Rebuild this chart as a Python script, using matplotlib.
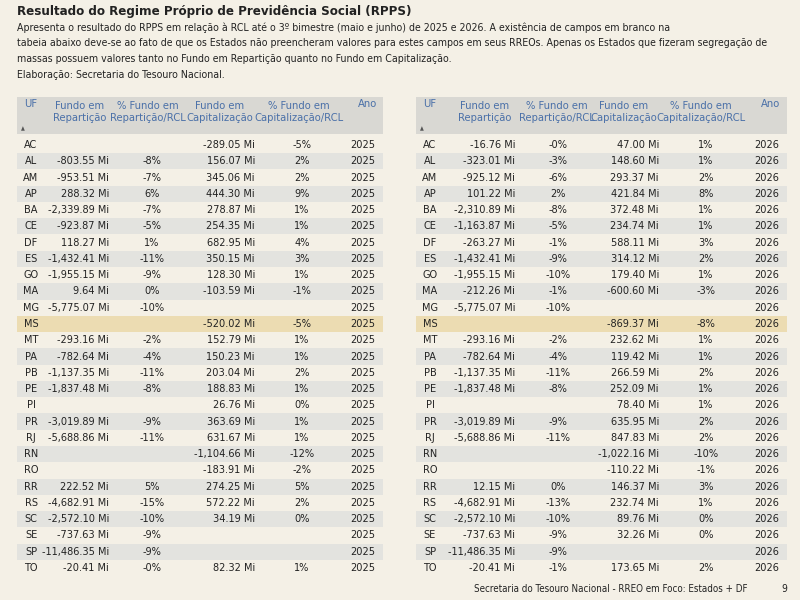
import matplotlib.pyplot as plt
from matplotlib.patches import Rectangle

plt.rcParams['font.family'] = ['DejaVu Sans']
plt.rcParams['font.stretch'] = 'condensed'

ufs = ['AC', 'AL', 'AM', 'AP', 'BA', 'CE', 'DF', 'ES', 'GO', 'MA', 'MG', 'MS', 'MT',
       'PA', 'PB', 'PE', 'PI', 'PR', 'RJ', 'RN', 'RO', 'RR', 'RS', 'SC', 'SE', 'SP', 'TO']

rep_2025 = ['', '-803.55 Mi', '-953.51 Mi', '288.32 Mi', '-2,339.89 Mi', '-923.87 Mi', '118.27 Mi',
            '-1,432.41 Mi', '-1,955.15 Mi', '9.64 Mi', '-5,775.07 Mi', '', '-293.16 Mi',
            '-782.64 Mi', '-1,137.35 Mi', '-1,837.48 Mi', '', '-3,019.89 Mi', '-5,688.86 Mi',
            '', '', '222.52 Mi', '-4,682.91 Mi', '-2,572.10 Mi', '-737.63 Mi', '-11,486.35 Mi', '-20.41 Mi']
rep_pct_2025 = ['', '-8%', '-7%', '6%', '-7%', '-5%', '1%', '-11%', '-9%', '0%', '-10%', '', '-2%',
                '-4%', '-11%', '-8%', '', '-9%', '-11%', '', '', '5%', '-15%', '-10%', '-9%', '-9%', '-0%']
cap_2025 = ['-289.05 Mi', '156.07 Mi', '345.06 Mi', '444.30 Mi', '278.87 Mi', '254.35 Mi', '682.95 Mi',
            '350.15 Mi', '128.30 Mi', '-103.59 Mi', '', '-520.02 Mi', '152.79 Mi',
            '150.23 Mi', '203.04 Mi', '188.83 Mi', '26.76 Mi', '363.69 Mi', '631.67 Mi',
            '-1,104.66 Mi', '-183.91 Mi', '274.25 Mi', '572.22 Mi', '34.19 Mi', '', '', '82.32 Mi']
cap_pct_2025 = ['-5%', '2%', '2%', '9%', '1%', '1%', '4%', '3%', '1%', '-1%', '', '-5%', '1%',
                '1%', '2%', '1%', '0%', '1%', '1%', '-12%', '-2%', '5%', '2%', '0%', '', '', '1%']

rep_2026 = ['-16.76 Mi', '-323.01 Mi', '-925.12 Mi', '101.22 Mi', '-2,310.89 Mi', '-1,163.87 Mi', '-263.27 Mi',
            '-1,432.41 Mi', '-1,955.15 Mi', '-212.26 Mi', '-5,775.07 Mi', '', '-293.16 Mi',
            '-782.64 Mi', '-1,137.35 Mi', '-1,837.48 Mi', '', '-3,019.89 Mi', '-5,688.86 Mi',
            '', '', '12.15 Mi', '-4,682.91 Mi', '-2,572.10 Mi', '-737.63 Mi', '-11,486.35 Mi', '-20.41 Mi']
rep_pct_2026 = ['-0%', '-3%', '-6%', '2%', '-8%', '-5%', '-1%', '-9%', '-10%', '-1%', '-10%', '', '-2%',
                '-4%', '-11%', '-8%', '', '-9%', '-11%', '', '', '0%', '-13%', '-10%', '-9%', '-9%', '-1%']
cap_2026 = ['47.00 Mi', '148.60 Mi', '293.37 Mi', '421.84 Mi', '372.48 Mi', '234.74 Mi', '588.11 Mi',
            '314.12 Mi', '179.40 Mi', '-600.60 Mi', '', '-869.37 Mi', '232.62 Mi',
            '119.42 Mi', '266.59 Mi', '252.09 Mi', '78.40 Mi', '635.95 Mi', '847.83 Mi',
            '-1,022.16 Mi', '-110.22 Mi', '146.37 Mi', '232.74 Mi', '89.76 Mi', '32.26 Mi', '', '173.65 Mi']
cap_pct_2026 = ['1%', '1%', '2%', '8%', '1%', '1%', '3%', '2%', '1%', '-3%', '', '-8%', '1%',
                '1%', '2%', '1%', '1%', '2%', '2%', '-10%', '-1%', '3%', '1%', '0%', '0%', '', '2%']

headers = ['UF', 'Fundo em\nRepartição', '% Fundo em\nRepartição/RCL', 'Fundo em\nCapitalização',
           '% Fundo em\nCapitalização/RCL', 'Ano']

BG = '#f4f0e6'
HEAD = '#4a70a8'
TXT = '#222222'

fig = plt.figure(figsize=(8, 6), dpi=100, facecolor=BG)
ax = fig.add_axes([0, 0, 1, 1])
ax.set_xlim(0, 800)
ax.set_ylim(600, 0)
ax.axis('off')

ax.text(17, 12, 'Resultado do Regime Próprio de Previdência Social (RPPS)', fontsize=9.5,
        fontweight='bold', color=TXT, va='center')
intro = ['Apresenta o resultado do RPPS em relação à RCL até o 3º bimestre (maio e junho) de 2025 e 2026. A existência de campos em branco na',
         'tabeia abaixo deve-se ao fato de que os Estados não preencheram valores para estes campos em seus RREOs. Apenas os Estados que fizeram segregação de',
         'massas possuem valores tanto no Fundo em Repartição quanto no Fundo em Capitalização.',
         'Elaboração: Secretaria do Tesouro Nacional.']
for i, line in enumerate(intro):
    ax.text(17, 28 + i * 15.5, line, fontsize=7.6, color=TXT, va='center')


def draw_table(x0, x1, cols, head_x, rep, rep_pct, cap, cap_pct, year):
    ax.add_patch(Rectangle((x0, 97), x1 - x0, 37, color='#d9d8d3', lw=0))
    ax.text(x0 + 4, 129, '▲', fontsize=4, color='#555555', va='center')
    for hx, h in zip(head_x, headers):
        if h in ('UF', 'Ano'):
            ax.text(hx, 104, h, fontsize=8, color=HEAD, ha='center', va='center')
        else:
            ax.text(hx, 112, h, fontsize=8, color=HEAD, ha='center', va='center', linespacing=1.25)
    rh = 16.27
    for i, uf in enumerate(ufs):
        yc = 145 + i * rh
        if uf == 'MS':
            ax.add_patch(Rectangle((x0, yc - rh / 2), x1 - x0, rh, color='#ecdcb2', lw=0))
        elif i % 2 == 1:
            ax.add_patch(Rectangle((x0, yc - rh / 2), x1 - x0, rh, color='#e3e3df', lw=0))
        vals = [uf, rep[i], rep_pct[i], cap[i], cap_pct[i], year]
        for (cx, ha), v in zip(cols, vals):
            ax.text(cx, yc, v, fontsize=7.8, color=TXT, ha=ha, va='center')


left_cols = [(31, 'center'), (109, 'right'), (152, 'center'), (255, 'right'), (302, 'center'), (375, 'right')]
right_cols = [(430, 'center'), (515, 'right'), (558, 'center'), (659, 'right'), (706, 'center'), (779, 'right')]
left_head = [31, 80, 148, 220, 299, 368]
right_head = [430, 485, 557, 624, 701, 771]
draw_table(17, 383, left_cols, left_head, rep_2025, rep_pct_2025, cap_2025, cap_pct_2025, '2025')
draw_table(416, 787, right_cols, right_head, rep_2026, rep_pct_2026, cap_2026, cap_pct_2026, '2026')

ax.text(747, 589, 'Secretaria do Tesouro Nacional - RREO em Foco: Estados + DF', fontsize=7,
        color=TXT, ha='right', va='center')
ax.text(787, 589, '9', fontsize=7.5, color=TXT, ha='right', va='center')

fig.savefig('out.png', dpi=100, facecolor=BG)
